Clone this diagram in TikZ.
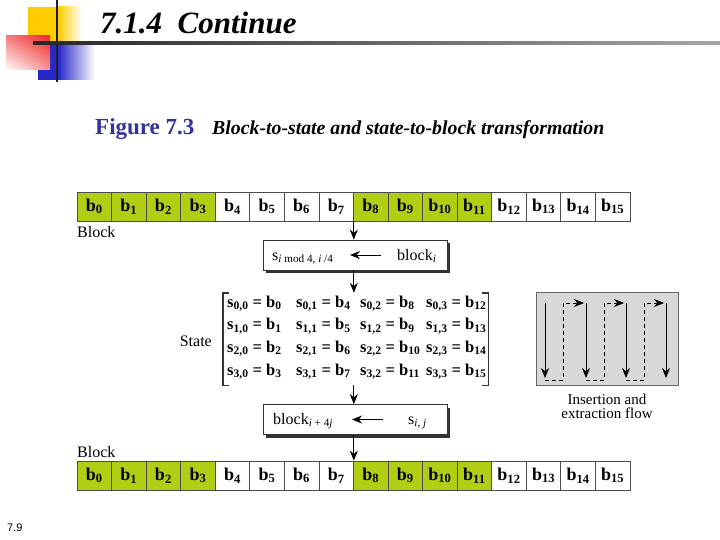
\documentclass[tikz,border=0pt]{standalone}
\usepackage{fontspec}
\setmainfont{Liberation Serif}
\newfontfamily\pagefont{Liberation Sans}
\usetikzlibrary{arrows.meta,positioning,calc,shadows,shadings}
\definecolor{cellgreen}{RGB}{178,206,20}
\definecolor{figblue}{RGB}{51,51,160}
\definecolor{panelgray}{RGB}{216,216,216}
\definecolor{decoyellow}{RGB}{255,204,0}
\definecolor{decored}{RGB}{240,40,40}
\definecolor{decoblue}{RGB}{40,40,200}
\definecolor{decoline}{RGB}{30,30,50}

\begin{document}
\begin{tikzpicture}[
    x=1pt, y=-1pt,
    cell/.style={draw=black!70, line width=0.7pt, minimum width=34.56pt, minimum height=29pt, inner sep=0pt, font=\fontsize{18}{18}\selectfont\bfseries},
    mapbox/.style={draw=black!80, line width=0.8pt, fill=white, minimum width=184pt, minimum height=30pt, drop shadow={shadow xshift=3pt, shadow yshift=-3pt, fill=black!80, opacity=1}},
    arrow/.style={-{Stealth[length=10pt,width=8pt]}, line width=0.9pt},
    entry/.style={anchor=base west, inner sep=0pt, font=\fontsize{16.5}{16.5}\selectfont\bfseries},
    plain/.style={inner sep=0pt, font=\fontsize{16}{16}\selectfont},
    bracket/.style={line width=1.4pt, black!80},
    flowdash/.style={dash pattern=on 4pt off 3pt, line width=0.9pt}
]
    \useasboundingbox (0,0) rectangle (720,540);

    % slide decoration
    \fill[decoyellow] (28,7) rectangle (58,41);
    \shade[left color=decoyellow, right color=white] (58,7) rectangle (82,41);
    \fill[decoblue] (38,45) rectangle (58,80);
    \shade[left color=decoblue, right color=white] (58,45) rectangle (95,80);
    \shade[upper right=decored, upper left=decored!60, lower left=white, lower right=decored!50] (6,36) rectangle (50,70);
    \draw[decoline, line width=2pt] (57,0) -- (57,82);
    \shade[left color=black!85, right color=black!35] (33,42) rectangle (720,44.5);

    \node[anchor=base west, inner sep=0pt, font=\fontsize{31}{31}\selectfont\bfseries\itshape] (title) at (100,33.5) {7.1.4\ \ Continue};
    \node[anchor=base west, inner sep=0pt, text=figblue, font=\fontsize{23}{23}\selectfont\bfseries] (fignum) at (95,135) {Figure 7.3};
    \node[anchor=base west, inner sep=0pt, font=\fontsize{19.8}{19.8}\selectfont\bfseries\itshape] (figcap) at (212,135) {Block-to-state and state-to-block transformation};

    % block rows
    \foreach \i in {0,...,15}{
        \pgfmathtruncatemacro{\g}{mod(int(\i/4),2)}
        \ifnum\g=0 \def\cellfill{cellgreen}\else\def\cellfill{white}\fi
        \node[cell, fill=\cellfill] (top\i) at (94.28+34.56*\i, 206.5) {b\textsubscript{\i}};
        \node[cell, fill=\cellfill] (bot\i) at (94.28+34.56*\i, 475.5) {b\textsubscript{\i}};
    }
    \node[plain, anchor=base west] (blocktop) at (77,237) {Block};
    \node[plain, anchor=base west] (blockbot) at (77,457) {Block};

    % block to state
    \node[mapbox] (tobox) at (355,255) {};
    \node[plain, anchor=base west] (sidx) at (272,260) {s\textsubscript{\textit{i} mod 4, \textit{i} /4}};
    \node[plain, anchor=base west] (blki) at (397,260) {block\textsubscript{\textit{i}}};
    \draw[arrow] ([xshift=26pt]tobox.center) -- ([xshift=-5pt]tobox.center);

    % state matrix
    \node[minimum width=265pt, minimum height=92pt, inner sep=0pt] (statebox) at (355.5,339) {};
    \draw[bracket] ([xshift=6pt]statebox.north west) -- (statebox.north west) -- (statebox.south west) -- ++(6,0);
    \draw[bracket] ([xshift=-6pt]statebox.north east) -- (statebox.north east) -- (statebox.south east) -- ++(-6,0);
    \foreach \r in {0,...,3}
        \foreach \c/\x in {0/227,1/296,2/360,3/426}{
            \pgfmathtruncatemacro{\n}{\r+4*\c}
            \node[entry] (s\r\c) at (\x, 307+22.67*\r) {s\textsubscript{\r,\c} = b\textsubscript{\n}};
        }
    \node[plain, anchor=base east] (statelbl) at (212,346) {State};

    % state to block
    \node[mapbox] (frombox) at (355,419.5) {};
    \node[plain, anchor=base west] (blkij) at (273,424) {block\textsubscript{\textit{i} + 4\textit{j}}};
    \node[plain, anchor=base west] (sij) at (408,424) {s\textsubscript{\textit{i}, \textit{j}}};
    \draw[arrow] ([xshift=28pt]frombox.center) -- ([xshift=-3pt]frombox.center);

    \draw[arrow] (top7.south east) -- (top7.south east |- tobox.north);
    \draw[arrow] (top7.south east |- tobox.south) -- (top7.south east |- statebox.north);
    \draw[arrow] (top7.south east |- statebox.south) -- (top7.south east |- frombox.north);
    \draw[arrow] (top7.south east |- frombox.south) -- (bot7.north east);

    % insertion and extraction flow
    \node[draw=black!60, fill=panelgray, minimum width=142pt, minimum height=93pt, inner sep=0pt] (flowpanel) at (607,338.5) {};
    \foreach \x in {545,586,626,666}
        \draw[arrow] (\x,303) -- (\x,378);
    \foreach \a/\b in {545/586,586/626,626/666}
        \draw[flowdash, -{Stealth[length=10pt,width=8pt]}] (\a,380) -- (\a+18,380) -- (\a+18,303) -- (\b-2,303);
    \node[align=center, inner sep=0pt, font=\fontsize{15}{14}\selectfont, below=9pt of flowpanel] (flowlbl) {Insertion and\\extraction flow};

    \node[anchor=base west, inner sep=0pt, font=\pagefont\fontsize{11}{11}\selectfont] (pagenum) at (7,531) {7.9};
\end{tikzpicture}
\end{document}
